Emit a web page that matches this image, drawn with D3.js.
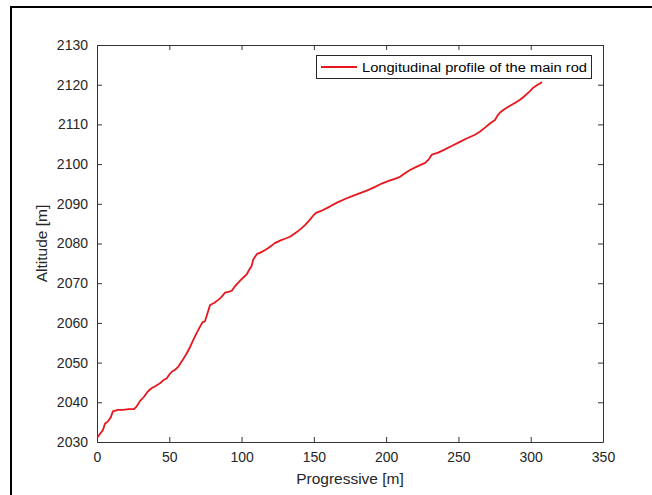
<!DOCTYPE html>
<html>
<head>
<meta charset="utf-8">
<script src="https://cdn.jsdelivr.net/npm/d3@7"></script>
<style>
  body { margin: 0; background: #fff; }
  svg { display: block; font-family: "Liberation Sans", Arial, sans-serif; }
</style>
</head>
<body>
<svg id="chart" width="652" height="495"></svg>
<script>
// ---- data ----
const progressive = [0, 0.7, 2, 4.1, 5.5, 7.6, 9.5, 11, 14.5, 18, 22, 25.6, 27.5, 29.7, 32.5, 35.3, 38, 40, 43.6, 46, 48.2, 50, 51.7, 54, 56.3, 59, 62, 64.5, 66.6, 69, 71.2, 73, 74.7, 76.5, 78.2, 81, 83.9, 86, 88.5, 91, 93.2, 95, 96.6, 100, 103.5, 105, 107, 108.1, 110.7, 113, 116, 119, 123, 127, 130, 133.5, 137, 140.4, 144, 147, 149.5, 151.5, 155, 161, 166, 171.5, 177, 182, 187, 192, 197, 202.7, 206, 209.6, 213, 216.5, 222, 227, 229.5, 231.7, 236, 240.7, 246, 251, 256, 261.5, 265, 268.4, 272, 275.3, 277, 278.8, 282, 285.7, 289, 292.6, 295, 297.4, 299.5, 301.6, 304, 306.4, 307.8];
const altitude    = [2031.4, 2031.3, 2032.0, 2033.0, 2034.6, 2035.2, 2036.2, 2037.7, 2038.1, 2038.1, 2038.3, 2038.3, 2039.0, 2040.3, 2041.4, 2042.8, 2043.6, 2044.0, 2044.8, 2045.6, 2046.0, 2047.0, 2047.7, 2048.2, 2049.0, 2050.5, 2052.3, 2054.0, 2055.7, 2057.5, 2059.0, 2060.2, 2060.4, 2062.5, 2064.5, 2065.0, 2065.8, 2066.5, 2067.6, 2067.8, 2068.1, 2069.0, 2069.7, 2071.0, 2072.2, 2073.2, 2074.4, 2076.0, 2077.4, 2077.7, 2078.3, 2079.0, 2080.1, 2080.8, 2081.2, 2081.7, 2082.6, 2083.5, 2084.7, 2085.9, 2087.0, 2087.7, 2088.2, 2089.3, 2090.3, 2091.2, 2092.0, 2092.7, 2093.4, 2094.2, 2095.1, 2095.9, 2096.3, 2096.8, 2097.7, 2098.5, 2099.5, 2100.3, 2101.2, 2102.4, 2102.9, 2103.7, 2104.7, 2105.6, 2106.5, 2107.4, 2108.2, 2109.2, 2110.3, 2111.1, 2112.2, 2113.0, 2113.9, 2114.7, 2115.4, 2116.2, 2116.9, 2117.7, 2118.4, 2119.2, 2119.8, 2120.3, 2120.7];
const xTicks = [0, 50, 100, 150, 200, 250, 300, 350];
const yTicks = [2030, 2040, 2050, 2060, 2070, 2080, 2090, 2100, 2110, 2120, 2130];
const seriesName = "Longitudinal profile of the main rod";
const xTitle = "Progressive [m]";
const yTitle = "Altitude [m]";

// ---- layout ----
const svg = d3.select("#chart");
const L = 97, R = 603, T = 45, B = 442;
const axisColor = "#262626";
const boxColor = "#333333";

// outer frame (top and left edges visible)
svg.append("path")
  .attr("d", `M11,495 L11,7 L652,7`)
  .attr("fill", "none").attr("stroke", "#000").attr("stroke-width", 2);

const x = d3.scaleLinear().domain([0, 350]).range([L, R]);
const y = d3.scaleLinear().domain([2030, 2130]).range([B, T]);

// axes
const tickLen = 5;
const fmt = d3.format("d");
const xAxisB = d3.axisBottom(x).tickValues(xTicks).tickFormat(fmt).tickSizeInner(-tickLen).tickSizeOuter(0).tickPadding(10);
const xAxisT = d3.axisTop(x).tickValues(xTicks).tickSizeInner(-tickLen).tickSizeOuter(0).tickFormat("");
const yAxisL = d3.axisLeft(y).tickValues(yTicks).tickFormat(fmt).tickSizeInner(-tickLen).tickSizeOuter(0).tickPadding(9);
const yAxisR = d3.axisRight(y).tickValues(yTicks).tickSizeInner(-tickLen).tickSizeOuter(0).tickFormat("");

function style(g) {
  g.select(".domain").attr("stroke", boxColor).attr("stroke-width", 1);
  g.selectAll(".tick line").attr("stroke", boxColor).attr("stroke-width", 1);
  g.selectAll(".tick text").attr("fill", axisColor).style("font-size", "14px")
    .style("font-family", '"Liberation Sans", Arial, sans-serif');
}

svg.append("g").attr("transform", `translate(0,${B})`).call(xAxisB).call(style);
svg.append("g").attr("transform", `translate(0,${T})`).call(xAxisT).call(style);
svg.append("g").attr("transform", `translate(${L},0)`).call(yAxisL).call(style);
svg.append("g").attr("transform", `translate(${R},0)`).call(yAxisR).call(style);

// line
const pts = progressive.map((p, i) => [p, altitude[i]]);
svg.append("path")
  .datum(pts)
  .attr("fill", "none")
  .attr("stroke", "#e8161d")
  .attr("stroke-width", 1.8)
  .attr("stroke-linejoin", "round")
  .attr("d", d3.line().x(d => x(d[0])).y(d => y(d[1])));

// axis titles
svg.append("text")
  .attr("x", (L + R) / 2).attr("y", 484)
  .attr("text-anchor", "middle").attr("fill", axisColor)
  .style("font-size", "15.5px").text(xTitle);
svg.append("text")
  .attr("transform", `translate(47,${(T + B) / 2}) rotate(-90)`)
  .attr("text-anchor", "middle").attr("fill", axisColor)
  .style("font-size", "15.5px").text(yTitle);

// legend
const lg = svg.append("g");
lg.append("rect").attr("x", 316.5).attr("y", 55.5).attr("width", 275).attr("height", 23)
  .attr("fill", "#fff").attr("stroke", axisColor).attr("stroke-width", 1);
lg.append("line").attr("x1", 321).attr("x2", 357).attr("y1", 67).attr("y2", 67)
  .attr("stroke", "#e8161d").attr("stroke-width", 1.8);
const lt = lg.append("text").attr("x", 362).attr("y", 71.5).attr("fill", "#000")
  .style("font-size", "12.5px").text(seriesName);
const w = lt.node().getComputedTextLength();
if (Math.abs(w - 225) > 3) lt.attr("textLength", 225).attr("lengthAdjust", "spacingAndGlyphs");
</script>
</body>
</html>
